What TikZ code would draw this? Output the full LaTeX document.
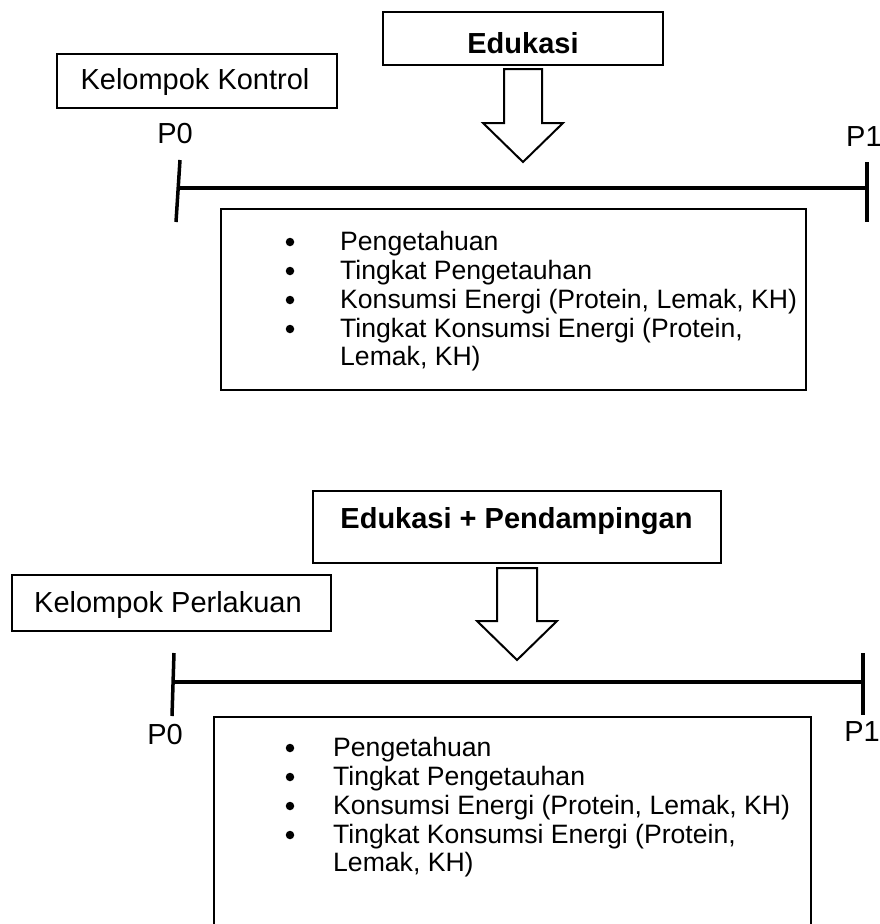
\documentclass[tikz,border=0pt]{standalone}
\usepackage{fontspec}
\setmainfont{Liberation Sans}
\begin{document}
\begin{tikzpicture}[x=1pt,y=-1pt,
  framebox/.style={draw, line width=2pt, inner sep=0pt},
  lbl/.style={inner sep=0pt, font=\fontsize{29}{34}\selectfont},
  blbl/.style={inner sep=0pt, font=\fontsize{29}{34}\selectfont\bfseries},
  itemtxt/.style={inner sep=0pt, anchor=base west, font=\fontsize{26.6}{30}\selectfont},
  bul/.style={circle, fill=black, inner sep=0pt, minimum size=8.5pt},
  tline/.style={line width=3.5pt},
  blockarrow/.style={draw, line width=2pt, fill=white, line join=miter}]
\useasboundingbox (0,0) rectangle (880,924);

% ---------- top: control group ----------
\node[framebox, minimum width=280pt, minimum height=53pt] (edu) at (523,38.5) {};
\node[blbl] (edutxt) at (523,43) {Edukasi};
\node[framebox, minimum width=280pt, minimum height=54pt] (kk) at (197,81) {};
\node[lbl] (kktxt) at (195,82) {Kelompok Kontrol};

\draw[blockarrow] ([xshift=-19pt,yshift=-3pt]edu.south) -- ++(0,54) -- ++(-21,0)
  -- ++(40,39) -- ++(40,-39) -- ++(-21,0) -- ++(0,-54) -- cycle;

\coordinate (a0t) at (180,160); \coordinate (a0b) at (176,222);
\coordinate (a1t) at (867,162); \coordinate (a1b) at (867,222);
\coordinate (a0m) at (178,188); \coordinate (a1m) at (867,188);
\draw[tline] (a0t) -- (a0b);
\draw[tline] (a1t) -- (a1b);
\draw[tline] (a0m) -- (a1m);
\node[lbl] (p0a) at (175,134) {P0};
\node[lbl, anchor=west] (p1a) at (846,137) {P1};

\draw[line width=2pt] (221,209) rectangle (806,390);
\node[bul] (b1) at (290,242) {};
\node[itemtxt] (i1) at (340,250) {Pengetahuan};
\node[bul] (b2) at (290,271) {};
\node[itemtxt] (i2) at (340,279) {Tingkat Pengetauhan};
\node[bul] (b3) at (290,300) {};
\node[itemtxt] (i3) at (340,308) {Konsumsi Energi (Protein, Lemak, KH)};
\node[bul] (b4) at (290,329) {};
\node[itemtxt] (i4) at (340,337) {Tingkat Konsumsi Energi (Protein,};
\node[itemtxt] (i5) at (340,365) {Lemak, KH)};

% ---------- bottom: treatment group ----------
\node[framebox, minimum width=408pt, minimum height=72pt] (edp) at (517,527) {};
\node[blbl] (edptxt) at (516.5,521) {Edukasi + Pendampingan};
\node[framebox, minimum width=319pt, minimum height=56pt] (kp) at (171.5,603) {};
\node[lbl] (kptxt) at (168,605) {Kelompok Perlakuan};

\draw[blockarrow] ([xshift=-20pt,yshift=-4pt]edp.south) -- ++(0,53) -- ++(-20,0)
  -- ++(40,39) -- ++(40,-39) -- ++(-20,0) -- ++(0,-53) -- cycle;

\coordinate (c0t) at (174,653); \coordinate (c0b) at (172,716);
\coordinate (c1t) at (863,653); \coordinate (c1b) at (863,715);
\coordinate (c0m) at (173,682); \coordinate (c1m) at (863,682);
\draw[tline] (c0t) -- (c0b);
\draw[tline] (c1t) -- (c1b);
\draw[tline] (c0m) -- (c1m);
\node[lbl] (p0b) at (165,735) {P0};
\node[lbl] (p1b) at (862,732) {P1};

\draw[line width=2pt] (214,930) -- (214,717) -- (811,717) -- (811,930);
\node[bul] (d1) at (290,748) {};
\node[itemtxt] (j1) at (333,756) {Pengetahuan};
\node[bul] (d2) at (290,777) {};
\node[itemtxt] (j2) at (333,785) {Tingkat Pengetauhan};
\node[bul] (d3) at (290,806) {};
\node[itemtxt] (j3) at (333,814) {Konsumsi Energi (Protein, Lemak, KH)};
\node[bul] (d4) at (290,835) {};
\node[itemtxt] (j4) at (333,843) {Tingkat Konsumsi Energi (Protein,};
\node[itemtxt] (j5) at (333,871) {Lemak, KH)};
\end{tikzpicture}
\end{document}
